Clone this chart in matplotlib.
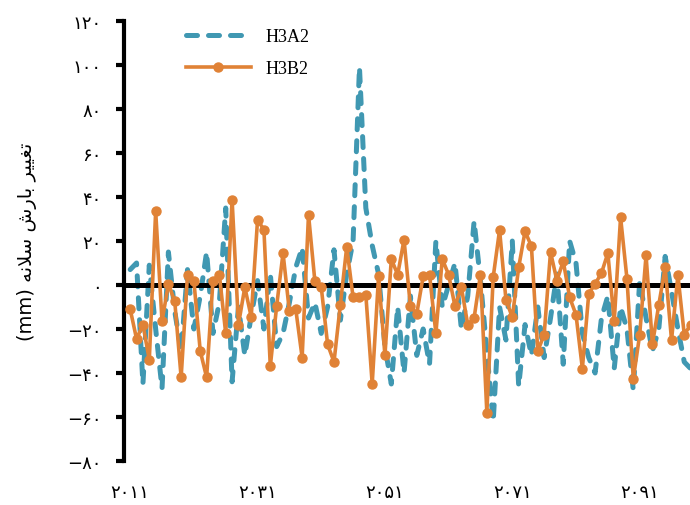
import numpy as np
import matplotlib
matplotlib.use("Agg")
from matplotlib import pyplot as plt

years = list(range(2011, 2100))

h3a2 = [7, 10, -45, 9, -20, -47, 15, -12, -30, 7,
        -20, -5, 15, -22, -8, 35, -44, -10, -32, -14,
        2, -20, 5, -28, -22, -8, 8, 17, -15, -8,
        -22, -10, 16, -16, 5, 20, 99, 35, 18, 5,
        -28, -45, -10, -40, -5, -32, -20, -36, 20, -10,
        0, 10, -20, -5, 29, 2, -30, -62, -10, -25,
        20, -46, -18, -32, -10, -33, -15, 5, -36, 20,
        10, -22, -33, -40, -15, -5, -38, -10, -20, -48,
        2, -15, -30, -20, 13, -3, -20, -35, -38]

h3b2 = [-11, -24.5, -18, -34, 33.6, -16.5, 0.5, -7.5, -42, 4.7,
        1.8, -30, -42, 2, 4.7, -22, 38.8, -18, -1, -14.5,
        29.7, 25, -37, -9.5, 14.5, -12, -11, -33, 32, 1.7,
        -1, -27, -35, -9, 17.3, -5.6, -5.6, -4.4, -45, 4,
        -32, 11.8, 4.7, 20.6, -9.7, -13, 3.9, 4.7, -22, 11.8,
        4.7, -9.7, -1, -18, -15, 4.7, -58, 3.6, 25, -6.7,
        -14.7, 8, 24.4, 17.6, -30, -22.6, 15, 2, 10.8, -5.6,
        -13.5, -38, -4, 0.5, 5.4, 14.5, -16.5, 30.8, 2.9, -42.7,
        -22.6, 13.5, -27, -9, 8, -25, 4.4, -22.6, -18]

xtick_years = [2011, 2031, 2051, 2071, 2091]
ytick_vals = list(range(-80, 121, 20))

fa_digits = str.maketrans("0123456789-", "۰۱۲۳۴۵۶۷۸۹−")


def fa(n):
    return str(n).translate(fa_digits)


# y label, shaped by hand (presentation forms, visual order)
ylab = ("(mm) "
        + "\uFEEA\uFEE7\uFEFC\uFEB3" + " "
        + "\uFEB5\uFEAD\uFE8E\uFE91" + " "
        + "\uFEAE\uFEF4\uFEF4\uFED0\uFE97")

teal = "#4098B2"
orange = "#E08236"

fig = plt.figure(figsize=(6.9, 5.06), dpi=100)
ax = fig.add_axes([0.18, 0.087, 0.82, 0.8695])

ax.plot(years, h3a2, color=teal, lw=3.6, dashes=(2.2, 2.2),
        dash_capstyle="round", label="H3A2", zorder=1)
ax.axhline(0, color="black", lw=3.6, zorder=2)
ax.plot(years, h3b2, color=orange, lw=2.6, marker="o", markersize=6.5,
        label="H3B2", zorder=3)

ax.set_xlim(2010.06, 2098.9)
ax.set_ylim(-80, 120)

ax.set_xticks(xtick_years)
ax.set_xticklabels([fa(y) for y in xtick_years], fontsize=13)
ax.set_yticks(ytick_vals)
ax.set_yticklabels([fa(v) for v in ytick_vals], fontsize=13)
ax.tick_params(axis="x", length=0, pad=16)
ax.tick_params(axis="y", length=6, width=3, pad=10, direction="out")

for s in ["top", "right", "bottom"]:
    ax.spines[s].set_visible(False)
ax.spines["left"].set_linewidth(3)

ax.set_ylabel(ylab, fontsize=14, labelpad=22)

leg = ax.legend(loc="upper left", bbox_to_anchor=(0.08, 1.02), frameon=False,
                prop={"family": "Liberation Serif", "size": 13},
                handlelength=3.6, labelspacing=0.8)

plt.savefig("out.png", dpi=100)
